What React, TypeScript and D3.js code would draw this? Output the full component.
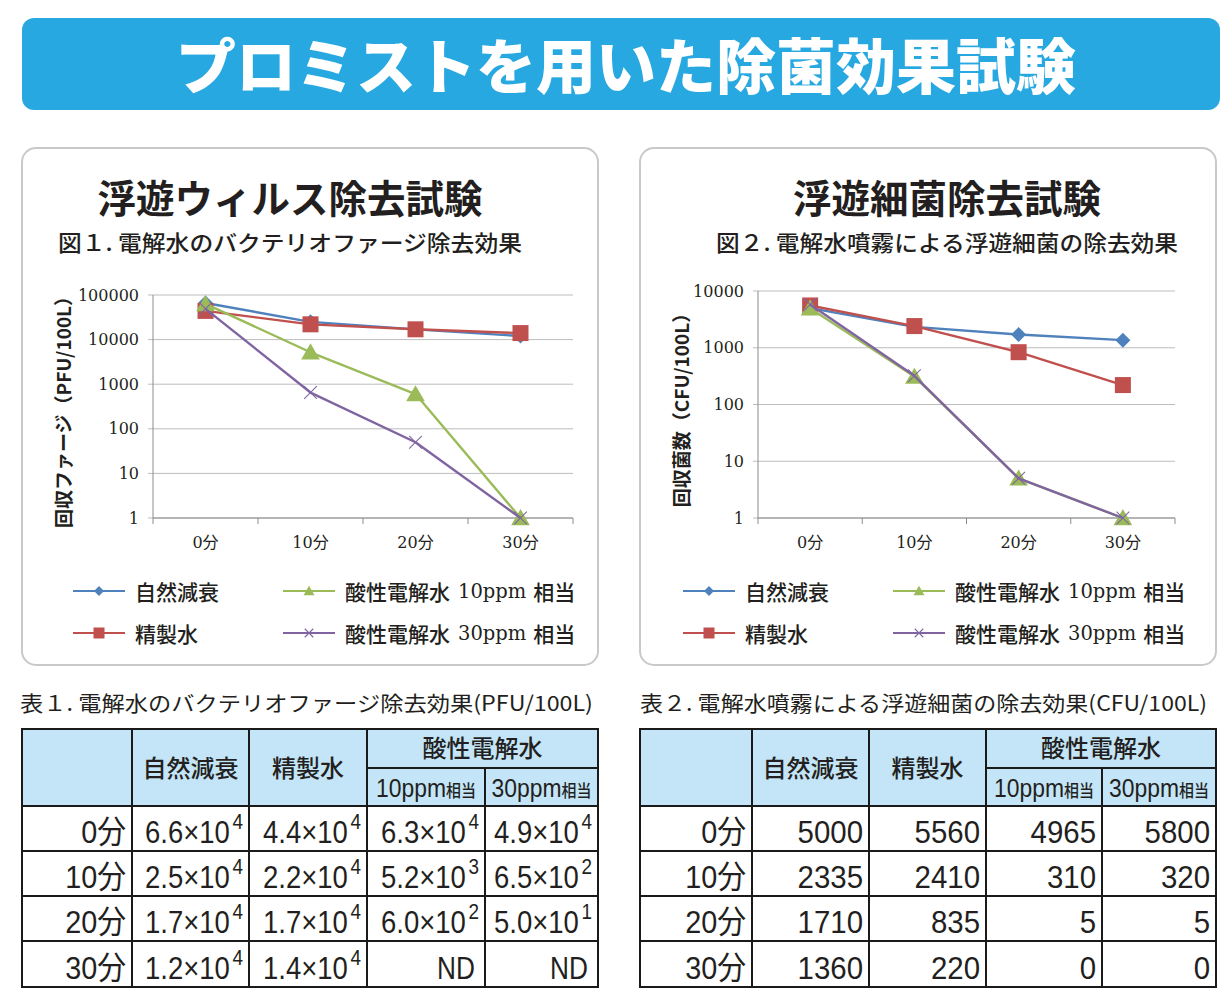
import React from "react";
import * as d3 from "d3";

// ---------- DATA ----------
const categories = ["0分", "10分", "20分", "30分"];
const seriesNames = ["自然減衰", "精製水", "酸性電解水 10ppm 相当", "酸性電解水 30ppm 相当"];

// Virus (PFU/100L); ND plotted at 1
const virusNatural = [66000, 25000, 17000, 12000];
const virusPurified = [44000, 22000, 17000, 14000];
const virusAcid10 = [63000, 5200, 600, 1];
const virusAcid30 = [49000, 650, 50, 1];
const virusTicks = [1, 10, 100, 1000, 10000, 100000];

// Bacteria (CFU/100L); 0 plotted at 1
const bacteriaNatural = [5000, 2335, 1710, 1360];
const bacteriaPurified = [5560, 2410, 835, 220];
const bacteriaAcid10 = [4965, 310, 5, 1];
const bacteriaAcid30 = [5800, 320, 5, 1];
const bacteriaTicks = [1, 10, 100, 1000, 10000];

// Table 1 (mantissa × 10^exponent, null = ND)
const table1Mantissa = [
  ["6.6", "4.4", "6.3", "4.9"],
  ["2.5", "2.2", "5.2", "6.5"],
  ["1.7", "1.7", "6.0", "5.0"],
  ["1.2", "1.4", null, null],
];
const table1Exponent = [
  [4, 4, 4, 4],
  [4, 4, 3, 2],
  [4, 4, 2, 1],
  [4, 4, null, null],
];
// Table 2
const table2Values = [
  [5000, 5560, 4965, 5800],
  [2335, 2410, 310, 320],
  [1710, 835, 5, 5],
  [1360, 220, 0, 0],
];

// ---------- STYLE ----------
const SANS = "'Noto Sans CJK JP', 'Noto Sans', sans-serif";
const SERIF = "'DejaVu Serif', 'Noto Sans CJK JP', serif";
const NARROW = "'Liberation Sans', 'Noto Sans CJK JP', sans-serif";
const COLORS = ["#4F81BD", "#C0504D", "#9BBB59", "#8064A2"];
const MARKERS = ["diamond", "square", "triangle", "x"];
const TEXT = "#231f20";

function Marker({ type, cx, cy, s, color }: any) {
  if (type === "diamond")
    return <path d={`M${cx},${cy - s}L${cx + s},${cy}L${cx},${cy + s}L${cx - s},${cy}Z`} fill={color} />;
  if (type === "square")
    return <rect x={cx - s} y={cy - s} width={2 * s} height={2 * s} fill={color} />;
  if (type === "triangle")
    return (
      <path
        d={`M${cx},${cy - s * 1.05}L${cx + s * 1.1},${cy + s * 0.85}L${cx - s * 1.1},${cy + s * 0.85}Z`}
        fill={color}
      />
    );
  const k = s * 0.85;
  return (
    <g stroke={color} strokeWidth={1.1}>
      <line x1={cx - k} y1={cy - k} x2={cx + k} y2={cy + k} />
      <line x1={cx - k} y1={cy + k} x2={cx + k} y2={cy - k} />
    </g>
  );
}

function LegendLabel({ name, x, y }: any) {
  const m = name.match(/^(\S+) (\d+ppm) (\S+)$/);
  if (!m)
    return (
      <text x={x} y={y} fontFamily={SANS} fontSize={21} fontWeight={500} fill={TEXT} dominantBaseline="central">
        {name}
      </text>
    );
  return (
    <text x={x} y={y} fontFamily={SANS} fontSize={21} fontWeight={500} fill={TEXT} dominantBaseline="central">
      {m[1]}
      <tspan fontFamily={SERIF} fontSize={19.5} fontWeight={400} dx={8}>
        {m[2]}
      </tspan>
      <tspan dx={7}>{m[3]}</tspan>
    </text>
  );
}

function Chart({ panelX, title, titleX, subtitle, subLen, yLabel, series, ticks, xRange, yRange, legendX }: any) {
  const x = d3.scaleBand<string>().domain(categories).range(xRange);
  const y = d3.scaleLog().domain([ticks[0], ticks[ticks.length - 1]]).range(yRange);
  const cx = (c: string) => (x(c) as number) + x.bandwidth() / 2;
  const line = d3
    .line<number>()
    .x((_, i) => cx(categories[i]))
    .y((d) => y(d));
  const boundaries = categories.map((c) => x(c) as number).concat([xRange[1]]);
  const [x0, x1] = xRange;
  const yBottom = yRange[0];
  return (
    <g>
      <rect x={panelX} y={148} width={576} height={517} rx={14} fill="#fff" stroke="#c9c9c9" strokeWidth={2} />
      <text x={titleX} y={213} textAnchor="middle" fontFamily={SANS} fontSize={38.5} fontWeight={700} fill={TEXT}>
        {title}
      </text>
      <text
        x={titleX - subLen / 2}
        y={251}
        fontFamily={SANS}
        fontSize={22}
        fontWeight={500}
        fill={TEXT}
        textLength={subLen}
        lengthAdjust="spacingAndGlyphs"
      >
        {subtitle}
      </text>
      {/* grid */}
      {ticks.map((t: number) => (
        <g key={t}>
          <line x1={x0 - 5} x2={x1} y1={y(t)} y2={y(t)} stroke="#bdbdbd" strokeWidth={1} />
          <text
            x={x0 - 14}
            y={y(t)}
            textAnchor="end"
            dominantBaseline="central"
            fontFamily={SERIF}
            fontSize={16}
            fill={TEXT}
          >
            {t}
          </text>
        </g>
      ))}
      <line x1={x0} x2={x0} y1={yRange[1]} y2={yBottom} stroke="#8c8c8c" strokeWidth={1} />
      <line x1={x0} x2={x1} y1={yBottom} y2={yBottom} stroke="#8c8c8c" strokeWidth={1} />
      {boundaries.map((b, i) => (
        <line key={i} x1={b} x2={b} y1={yBottom} y2={yBottom + 6} stroke="#8c8c8c" strokeWidth={1} />
      ))}
      {categories.map((c) => (
        <text key={c} x={cx(c)} y={542} textAnchor="middle" dominantBaseline="central" fontFamily={SERIF} fontSize={16} fill={TEXT}>
          {c}
        </text>
      ))}
      <text
        transform={`translate(${panelX + 40},${(yRange[0] + yRange[1]) / 2 + 1}) rotate(-90)`}
        textAnchor="middle"
        dominantBaseline="central"
        fontFamily={SANS}
        fontSize={19}
        fontWeight={700}
        fill={TEXT}
      >
        {yLabel}
      </text>
      {/* series */}
      {series.map((vals: number[], si: number) => (
        <g key={si}>
          <path d={line(vals) as string} fill="none" stroke={COLORS[si]} strokeWidth={2.4} strokeLinejoin="round" />
          {vals.map((v, i) => (
            <Marker
              key={i}
              type={MARKERS[si]}
              cx={cx(categories[i])}
              cy={y(v)}
              s={si === 0 ? 7.5 : si === 1 ? 8 : si === 2 ? 8.5 : 7.5}
              color={COLORS[si]}
            />
          ))}
        </g>
      ))}
      {/* legend */}
      {seriesNames.map((name, si) => {
        const col = si >= 2 ? 1 : 0;
        const row = si % 2;
        const lx = legendX + col * 210;
        const ly = 591 + row * 42;
        return (
          <g key={name}>
            <line x1={lx} x2={lx + 52} y1={ly} y2={ly} stroke={COLORS[si]} strokeWidth={2.2} />
            <Marker type={MARKERS[si]} cx={lx + 26} cy={ly} s={si === 1 ? 5.5 : 5} color={COLORS[si]} />
            <LegendLabel name={name} x={lx + 62} y={ly} />
          </g>
        );
      })}
    </g>
  );
}

function NarrowText({ x, y, anchor, size, children, scale = 0.9 }: any) {
  return (
    <text
      transform={`translate(${x},${y}) scale(${scale},1)`}
      textAnchor={anchor}
      fontFamily={NARROW}
      fontSize={size}
      fill={TEXT}
    >
      {children}
    </text>
  );
}

function Table({ tx, caption, capLen, cols, cell }: any) {
  const rows = [729, 806, 851, 896, 941, 987];
  const splitY = 768;
  const headFill = "#c3e5f7";
  const x0 = cols[0];
  const x5 = cols[cols.length - 1];
  return (
    <g>
      <text
        x={tx}
        y={711}
        fontFamily={SANS}
        fontSize={21}
        fill={TEXT}
        textLength={capLen}
        lengthAdjust="spacingAndGlyphs"
      >
        {caption}
      </text>
      <rect x={x0} y={rows[0]} width={x5 - x0} height={rows[1] - rows[0]} fill={headFill} />
      <rect x={x0} y={rows[1]} width={x5 - x0} height={rows[5] - rows[1]} fill="#fff" />
      {/* header texts */}
      <text x={(cols[1] + cols[2]) / 2} y={777} textAnchor="middle" fontFamily={SANS} fontSize={24} fontWeight={500} fill={TEXT}>
        自然減衰
      </text>
      <text x={(cols[2] + cols[3]) / 2} y={777} textAnchor="middle" fontFamily={SANS} fontSize={24} fontWeight={500} fill={TEXT}>
        精製水
      </text>
      <text x={(cols[3] + cols[5]) / 2} y={757} textAnchor="middle" fontFamily={SANS} fontSize={24} fontWeight={500} fill={TEXT}>
        酸性電解水
      </text>
      {["10ppm", "30ppm"].map((p, i) => (
        <g key={p} transform={`translate(${(cols[3 + i] + cols[4 + i]) / 2},797)`}>
          <text textAnchor="middle" fontFamily={NARROW} fill={TEXT} transform="scale(0.88,1)">
            <tspan fontSize={26}>{p}</tspan>
            <tspan fontFamily={SANS} fontSize={17} fontWeight={500}>
              相当
            </tspan>
          </text>
        </g>
      ))}
      {/* row labels and cells */}
      {categories.map((c, r) => (
        <g key={c}>
          <NarrowText x={cols[1] - 6} y={rows[r + 2] - 8} anchor="end" size={32}>
            {c}
          </NarrowText>
          {[0, 1, 2, 3].map((k) => (
            <g key={k}>{cell(r, k, cols[k + 2] - 6, rows[r + 2] - 8)}</g>
          ))}
        </g>
      ))}
      {/* lines */}
      {rows.map((ry, i) =>
        i === 0 || i === 5 ? null : (
          <line key={i} x1={x0} x2={x5} y1={ry} y2={ry} stroke="#1a1a1a" strokeWidth={2} />
        )
      )}
      <line x1={cols[3]} x2={x5} y1={splitY} y2={splitY} stroke="#1a1a1a" strokeWidth={2} />
      {cols.map((cxp: number, i: number) =>
        i === 0 || i === cols.length - 1 ? null : (
          <line
            key={i}
            x1={cxp}
            x2={cxp}
            y1={i === 4 ? splitY : rows[0]}
            y2={rows[5]}
            stroke="#1a1a1a"
            strokeWidth={2}
          />
        )
      )}
      <rect x={x0} y={rows[0]} width={x5 - x0} height={rows[5] - rows[0]} fill="none" stroke="#1a1a1a" strokeWidth={2} />
    </g>
  );
}

export default function App() {
  const t1Cell = (r: number, k: number, x: number, y: number) => {
    const m = table1Mantissa[r][k];
    const e = table1Exponent[r][k];
    if (m === null) {
      return (
        <NarrowText x={x - 4} y={y} anchor="end" size={32} scale={0.82}>
          ND
        </NarrowText>
      );
    }
    return (
      <NarrowText x={x} y={y} anchor="end" size={32} scale={0.86}>
        {m}×10
        <tspan fontSize={22} dx={3} dy={-14}>
          {e}
        </tspan>
      </NarrowText>
    );
  };
  const t2Cell = (r: number, k: number, x: number, y: number) => (
    <NarrowText x={x} y={y} anchor="end" size={32} scale={0.92}>
      {table2Values[r][k]}
    </NarrowText>
  );

  return (
    <svg
      width={1232}
      height={1000}
      style={{ position: "absolute", left: 0, top: 0, display: "block", background: "#fff" }}
    >
      <rect x={22} y={18} width={1198} height={92} rx={12} fill="#27a8e0" />
      <text x={626} y={89} textAnchor="middle" fontFamily={SANS} fontSize={60} fontWeight={900} fill="#fff">
        プロミストを用いた除菌効果試験
      </text>

      <Chart
        panelX={22}
        title="浮遊ウィルス除去試験"
        titleX={290}
        subtitle="図１. 電解水のバクテリオファージ除去効果"
        subLen={464}
        yLabel="回収ファージ（PFU/100L）"
        series={[virusNatural, virusPurified, virusAcid10, virusAcid30]}
        ticks={virusTicks}
        xRange={[153, 573]}
        yRange={[518, 295]}
        legendX={73}
      />
      <Chart
        panelX={640}
        title="浮遊細菌除去試験"
        titleX={947}
        subtitle="図２. 電解水噴霧による浮遊細菌の除去効果"
        subLen={462}
        yLabel="回収菌数（CFU/100L）"
        series={[bacteriaNatural, bacteriaPurified, bacteriaAcid10, bacteriaAcid30]}
        ticks={bacteriaTicks}
        xRange={[758, 1175]}
        yRange={[518, 291]}
        legendX={683}
      />

      <Table
        tx={20}
        caption="表１. 電解水のバクテリオファージ除去効果(PFU/100L)"
        capLen={573}
        cols={[22, 132, 249, 367, 485, 598]}
        cell={t1Cell}
      />
      <Table
        tx={640}
        caption="表２. 電解水噴霧による浮遊細菌の除去効果(CFU/100L)"
        capLen={567}
        cols={[640, 752, 869, 986, 1102, 1216]}
        cell={t2Cell}
      />
    </svg>
  );
}
